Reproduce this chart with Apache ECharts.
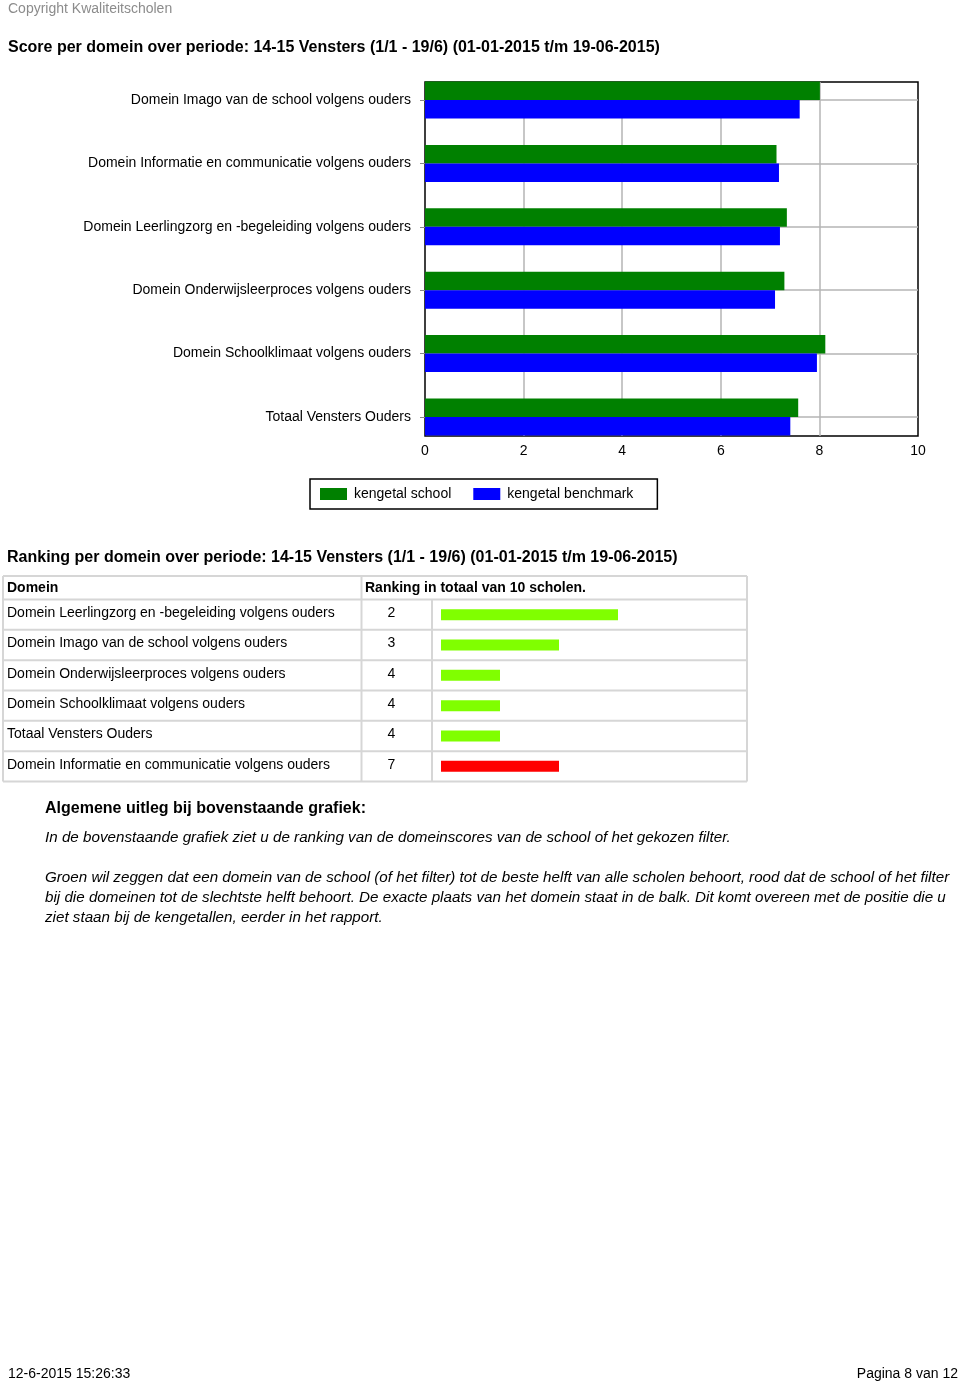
<!DOCTYPE html>
<html><head><meta charset="utf-8">
<script src="https://cdn.jsdelivr.net/npm/echarts@6/dist/echarts.min.js"></script>
<style>html,body{margin:0;padding:0;background:#fff}#c{width:960px;height:1384px}</style>
</head><body><div id="c"></div>
<script>
// ---- data ----
const domains = [
  'Domein Imago van de school volgens ouders',
  'Domein Informatie en communicatie volgens ouders',
  'Domein Leerlingzorg en -begeleiding volgens ouders',
  'Domein Onderwijsleerproces volgens ouders',
  'Domein Schoolklimaat volgens ouders',
  'Totaal Vensters Ouders'
];
const schoolScores = [8.01, 7.13, 7.34, 7.29, 8.12, 7.57];
const benchmarkScores = [7.60, 7.18, 7.20, 7.10, 7.95, 7.41];
const seriesNames = ['kengetal school', 'kengetal benchmark'];

const rankDomains = [
  'Domein Leerlingzorg en -begeleiding volgens ouders',
  'Domein Imago van de school volgens ouders',
  'Domein Onderwijsleerproces volgens ouders',
  'Domein Schoolklimaat volgens ouders',
  'Totaal Vensters Ouders',
  'Domein Informatie en communicatie volgens ouders'
];
const ranks = [2, 3, 4, 4, 4, 7];
const rankBarLengths = [3, 2, 1, 1, 1, 2];
const totalSchools = 10;

const title1 = 'Score per domein over periode: 14-15 Vensters (1/1 - 19/6) (01-01-2015 t/m 19-06-2015)';
const title2 = 'Ranking per domein over periode: 14-15 Vensters (1/1 - 19/6) (01-01-2015 t/m 19-06-2015)';
const copyrightText = 'Copyright Kwaliteitscholen';
const explainTitle = 'Algemene uitleg bij bovenstaande grafiek:';
const explainLines = [
  'In de bovenstaande grafiek ziet u de ranking van de domeinscores van de school of het gekozen filter.',
  '',
  'Groen wil zeggen dat een domein van de school (of het filter) tot de beste helft van alle scholen behoort, rood dat de school of het filter',
  'bij die domeinen tot de slechtste helft behoort. De exacte plaats van het domein staat in de balk. Dit komt overeen met de positie die u',
  'ziet staan bij de kengetallen, eerder in het rapport.'
];
const footerLeft = '12-6-2015 15:26:33';
const footerRight = 'Pagina 8 van 12';

// ---- styling ----
const FONT = '"Liberation Sans", Arial, Helvetica, sans-serif';
const ITALIC = '"Comic Sans MS", "Liberation Sans", Arial, sans-serif';
const GRID_COLOR = '#b5b5b5';
const TABLE_LINE = '#d6d6d6';

const chart = echarts.init(document.getElementById('c'), null, {renderer: 'canvas'});

// table geometry
const tLeft = 3, tRight = 747, tColA = 361.5, tColB = 432;
const tTop = 576, tHeadBottom = 599.5, rowH = 30.33;
const rowLines = [tTop, tHeadBottom];
for (let i = 1; i <= rankDomains.length; i++) rowLines.push(tHeadBottom + i * rowH);
const tBottom = rowLines[rowLines.length - 1];

const graphics = [];
function txt(text, x, y, font, fill, align) {
  graphics.push({type: 'text', silent: true, style: {text, x, y, font, fill: fill || '#000', align: align || 'left', verticalAlign: 'middle'}});
}
function line(x1, y1, x2, y2, w) {
  graphics.push({type: 'line', silent: true, shape: {x1, y1, x2, y2}, style: {stroke: TABLE_LINE, lineWidth: w || 2}});
}
rowLines.forEach(y => line(tLeft, y, tRight, y));
line(tLeft, tTop, tLeft, tBottom);
line(tColA, tTop, tColA, tBottom);
line(tColB, tHeadBottom, tColB, tBottom);
line(tRight, tTop, tRight, tBottom);

txt(copyrightText, 8, 9, '14px ' + FONT, '#8c8c8c');
txt(title1, 8, 48, 'bold 16px ' + FONT);
txt(title2, 7, 558, 'bold 16px ' + FONT);
txt('Domein', 7, 588, 'bold 14px ' + FONT);
txt('Ranking in totaal van ' + totalSchools + ' scholen.', 365, 588, 'bold 14px ' + FONT);
txt(explainTitle, 45, 809, 'bold 16px ' + FONT);
const exY = [838, 858, 878, 898, 918];
explainLines.forEach((l, i) => { if (l) txt(l, 45, exY[i], 'italic 15.2px ' + ITALIC); });
txt(footerLeft, 8, 1374, '14px ' + FONT);
txt(footerRight, 958, 1374, '14px ' + FONT, '#000', 'right');

chart.setOption({
  animation: false,
  backgroundColor: '#fff',
  textStyle: {fontFamily: FONT},
  legend: {
    data: seriesNames,
    left: 310, top: 479,
    itemWidth: 27, itemHeight: 12, itemGap: 22,
    icon: 'rect',
    borderColor: '#000', borderWidth: 1.5,
    padding: [8, 24, 8, 10],
    selectedMode: false,
    textStyle: {fontSize: 14, color: '#000', fontFamily: FONT, padding: [0, 0, 0, 2]}
  },
  grid: [
    {left: 425, top: 82, width: 493, height: 354, show: true, borderColor: '#000', borderWidth: 1.5, backgroundColor: 'transparent', containLabel: false},
    {left: 425, top: 100, width: 493, height: 317, containLabel: false},
    {left: 441, top: tHeadBottom, width: 295, height: tBottom - tHeadBottom, containLabel: false}
  ],
  xAxis: [
    {gridIndex: 0, type: 'value', min: 0, max: 10, interval: 2,
     axisLine: {show: false}, axisTick: {show: false},
     axisLabel: {fontSize: 14, color: '#000', margin: 8, fontFamily: FONT},
     splitLine: {show: true, showMinLine: false, showMaxLine: false, lineStyle: {color: GRID_COLOR, width: 1.5}}},
    {gridIndex: 1, type: 'value', min: 0, max: 10, show: false},
    {gridIndex: 2, type: 'value', min: 0, max: 5, show: false}
  ],
  yAxis: [
    {gridIndex: 0, type: 'value', min: 0, max: 1, show: false},
    {gridIndex: 1, type: 'category', inverse: true, boundaryGap: false, data: domains,
     axisLine: {show: false},
     axisTick: {show: true, length: 5, lineStyle: {color: '#888'}},
     axisLabel: {fontSize: 14, color: '#000', margin: 14, fontFamily: FONT, padding: [2, 0, 0, 0]},
     splitLine: {show: true, lineStyle: {color: GRID_COLOR, width: 1.5}}},
    {gridIndex: 2, type: 'category', inverse: true, data: rankDomains,
     axisLine: {show: false}, axisTick: {show: false}, splitLine: {show: false},
     axisLabel: {
       align: 'left', margin: 434, fontSize: 14, color: '#000', fontFamily: FONT,
       padding: [0, 0, 3, 0],
       formatter: (v, i) => '{n|' + v + '}{r|' + ranks[i] + '}',
       rich: {n: {width: 374, fontSize: 14, fontFamily: FONT, color: '#000'},
              r: {width: 21, align: 'center', fontSize: 14, fontFamily: FONT, color: '#000'}}
     }}
  ],
  series: [
    {name: seriesNames[0], type: 'bar', xAxisIndex: 1, yAxisIndex: 1, data: schoolScores,
     barWidth: 18.5, barGap: '0%', itemStyle: {color: '#008000'}},
    {name: seriesNames[1], type: 'bar', xAxisIndex: 1, yAxisIndex: 1, data: benchmarkScores,
     barWidth: 18.5, barGap: '0%', itemStyle: {color: '#0000ff'}},
    {name: 'ranking', type: 'bar', xAxisIndex: 2, yAxisIndex: 2,
     data: rankBarLengths.map((v, i) => ({value: v, itemStyle: {color: ranks[i] <= totalSchools / 2 ? '#80ff00' : '#ff0000'}})),
     barWidth: 11}
  ],
  graphic: graphics
});
</script></body></html>
